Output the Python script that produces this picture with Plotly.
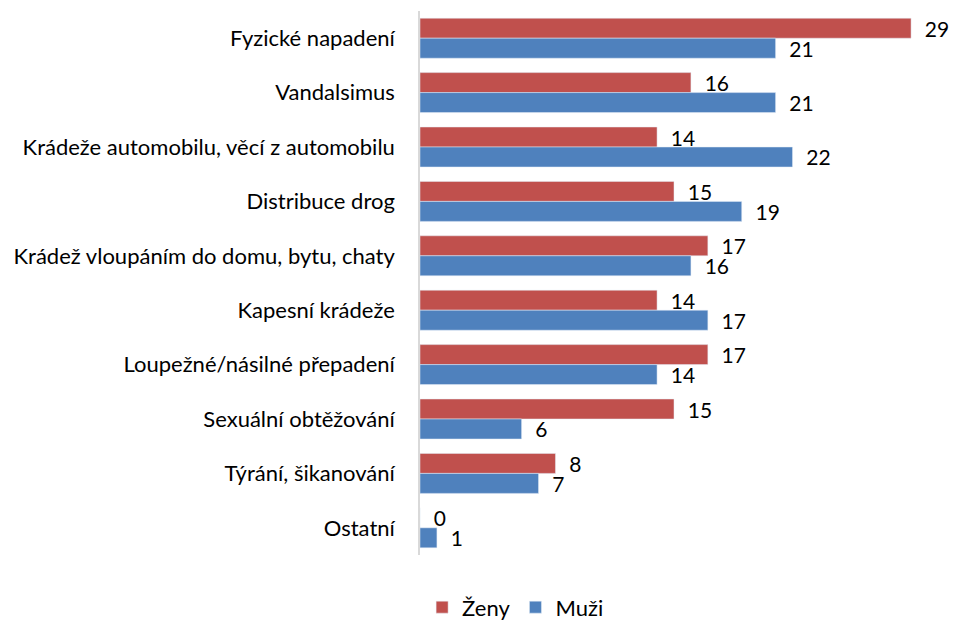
import plotly.graph_objects as go

categories = [
    "Fyzické napadení",
    "Vandalsimus",
    "Krádeže automobilu, věcí z automobilu",
    "Distribuce drog",
    "Krádež vloupáním do domu, bytu, chaty",
    "Kapesní krádeže",
    "Loupežné/násilné přepadení",
    "Sexuální obtěžování",
    "Týrání, šikanování",
    "Ostatní",
]
zeny = [29, 16, 14, 15, 17, 14, 17, 15, 8, 0]
muzi = [21, 21, 22, 19, 16, 17, 14, 6, 7, 1]

FONT = "Lato"
FS = 22
VFS = 21
RED = "#C0504D"
BLUE = "#4F81BD"

fig = go.Figure()
fig.add_trace(go.Bar(
    name="Ženy", y=categories, x=zeny, orientation="h",
    marker=dict(color=RED),
    text=["  " + str(v) for v in zeny], textposition="outside",
    constraintext="none",
    textfont=dict(family=FONT, size=VFS, color="#000000"),
    cliponaxis=False,
))
fig.add_trace(go.Bar(
    name="Muži", y=categories, x=muzi, orientation="h",
    marker=dict(color=BLUE),
    text=["  " + str(v) for v in muzi], textposition="outside",
    constraintext="none",
    textfont=dict(family=FONT, size=VFS, color="#000000"),
    cliponaxis=False,
))

fig.update_layout(
    width=955, height=621,
    margin=dict(l=420, r=27, t=11, b=66, autoexpand=False),
    paper_bgcolor="white", plot_bgcolor="white",
    barmode="group", bargap=0.265, bargroupgap=0,
    font=dict(family=FONT, size=FS, color="#000000"),
    showlegend=True,
    legend=dict(
        orientation="h", xref="container", yref="container",
        x=0.442, y=0.022, xanchor="left", yanchor="middle",
        font=dict(family=FONT, size=FS), itemwidth=30,
        traceorder="normal",
    ),
    xaxis=dict(range=[0, 30], showgrid=False, zeroline=False,
               showticklabels=False, showline=False, ticks="",
               automargin=False),
    yaxis=dict(autorange="reversed", showgrid=False, zeroline=False,
               showline=True, linecolor="#D9D9D9", linewidth=1.5,
               ticks="", ticklabelstandoff=19, automargin=False,
               tickfont=dict(family=FONT, size=FS)),
)

fig.write_html("out.html", config={"displayModeBar": False},
               post_script="document.body.style.margin='0';")
